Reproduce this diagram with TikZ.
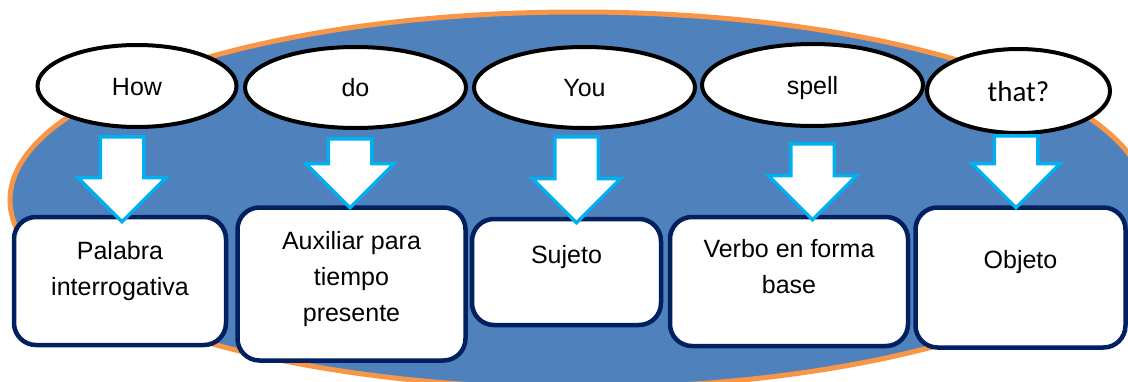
\documentclass[tikz,border=0pt]{standalone}
\usepackage{fontspec}
\setmainfont{Liberation Sans}
\newfontfamily\calibrifont{Carlito}
\usetikzlibrary{shapes.geometric,shapes.arrows,positioning}
\definecolor{fondo}{HTML}{4F81BD}
\definecolor{naranja}{HTML}{F79646}
\definecolor{marino}{HTML}{002060}
\definecolor{celeste}{HTML}{00B0F0}
\begin{document}
\begin{tikzpicture}[x=1pt,y=-1pt,
    palabra/.style={ellipse,draw=black,line width=4pt,fill=white,inner sep=0pt,
        font=\fontsize{25}{36}\selectfont,text height=18pt,text depth=0pt},
    caja/.style={rectangle,rounded corners=22pt,draw=marino,line width=4.5pt,fill=white},
    cajatexto/.style={align=center,inner sep=0pt,font=\fontsize{25}{36}\selectfont},
    flecha/.style={single arrow,draw=celeste,line width=3.5pt,fill=white,rotate=-90,anchor=tail,
        inner xsep=0pt,inner ysep=20pt,single arrow head extend=22.5pt}]
        \clip (0,0) rectangle (1128,381);
        \draw[fill=fondo,draw=naranja,line width=5pt] (578,200) ellipse [x radius=568pt,y radius=188pt];
        % words of the question
        \node[palabra,minimum width=199pt,minimum height=82pt] (how) at (137,86) {How};
        \node[palabra,minimum width=221pt,minimum height=81pt] (do) at (355.5,87.5) {do};
        \node[palabra,minimum width=221pt,minimum height=81pt] (you) at (584.5,87.5) {You};
        \node[palabra,minimum width=221pt,minimum height=82pt] (spell) at (812.5,85) {spell};
        \node[palabra,minimum width=183pt,minimum height=84pt,text height=20pt] (that) at (1018.5,91)
            {\calibrifont\fontsize{29}{36}\selectfont that?};
        % boxes
        \node[caja,minimum width=212pt,minimum height=128pt] (b1) at (120,281) {};
        \node[caja,minimum width=228pt,minimum height=153pt] (b2) at (351.5,284) {};
        \node[caja,minimum width=189pt,minimum height=106pt] (b3) at (566.5,272) {};
        \node[caja,minimum width=238pt,minimum height=129pt] (b4) at (789,281.5) {};
        \node[caja,minimum width=210pt,minimum height=140pt] (b5) at (1020.5,277.5) {};
        \node[cajatexto,below=26pt of b1.north] (t1) {Palabra\\interrogativa};
        \node[cajatexto,below=26pt of b2.north] (t2) {Auxiliar para\\tiempo\\presente};
        \node[cajatexto,below=28pt of b3.north] (t3) {Sujeto};
        \node[cajatexto,below=24pt of b4.north] (t4) {Verbo en forma\\base};
        \node[cajatexto,below=45pt of b5.north] (t5) {Objeto};
        % arrows
        \node[flecha,minimum height=85pt] (a1) at (122,135) {};
        \node[flecha,minimum height=69pt] (a2) at (350,137) {};
        \node[flecha,minimum height=86pt] (a3) at (576.5,135) {};
        \node[flecha,minimum height=76pt] (a4) at (812.5,142) {};
        \node[flecha,minimum height=72pt] (a5) at (1016,134) {};
    \end{tikzpicture}
\end{document}
